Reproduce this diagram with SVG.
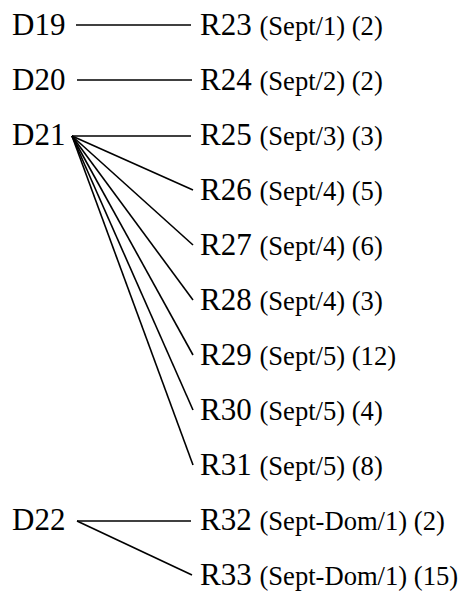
<svg xmlns="http://www.w3.org/2000/svg" width="466" height="592" viewBox="0 0 466 592">
<style>
text{font-family:"Liberation Serif","Times New Roman",serif;font-size:31px;fill:#000}
.s{font-size:26.6px}
#connectors line{stroke:#000;stroke-width:1.6;stroke-linecap:butt}
</style>
<rect width="466" height="592" fill="#fff"/>
<g id="connectors">
<line x1="76" y1="25" x2="191" y2="25"/>
<line x1="77" y1="80" x2="192" y2="80"/>
<line x1="72" y1="136" x2="191" y2="136"/>
<line x1="72" y1="136" x2="193" y2="190"/>
<line x1="72" y1="136" x2="193" y2="245"/>
<line x1="72" y1="136" x2="193" y2="300"/>
<line x1="72" y1="136" x2="193" y2="355"/>
<line x1="72" y1="136" x2="193" y2="410"/>
<line x1="72" y1="136" x2="193" y2="465"/>
<line x1="77" y1="521" x2="191" y2="521"/>
<line x1="77" y1="521" x2="192" y2="575"/>
</g>
<g id="D19"><text x="12" y="35">D19</text></g>
<g id="D20"><text x="12" y="90">D20</text></g>
<g id="D21"><text x="12" y="145">D21</text></g>
<g id="D22"><text x="12" y="530">D22</text></g>
<g id="R23"><text x="200" y="35">R23 <tspan class="s">(Sept/1) (2)</tspan></text></g>
<g id="R24"><text x="200" y="90">R24 <tspan class="s">(Sept/2) (2)</tspan></text></g>
<g id="R25"><text x="200" y="145">R25 <tspan class="s">(Sept/3) (3)</tspan></text></g>
<g id="R26"><text x="200" y="200">R26 <tspan class="s">(Sept/4) (5)</tspan></text></g>
<g id="R27"><text x="200" y="255">R27 <tspan class="s">(Sept/4) (6)</tspan></text></g>
<g id="R28"><text x="200" y="310">R28 <tspan class="s">(Sept/4) (3)</tspan></text></g>
<g id="R29"><text x="200" y="365">R29 <tspan class="s">(Sept/5) (12)</tspan></text></g>
<g id="R30"><text x="200" y="420">R30 <tspan class="s">(Sept/5) (4)</tspan></text></g>
<g id="R31"><text x="200" y="475">R31 <tspan class="s">(Sept/5) (8)</tspan></text></g>
<g id="R32"><text x="200" y="530">R32 <tspan class="s">(Sept-Dom/1) (2)</tspan></text></g>
<g id="R33"><text x="200" y="585">R33 <tspan class="s">(Sept-Dom/1) (15)</tspan></text></g>
</svg>
